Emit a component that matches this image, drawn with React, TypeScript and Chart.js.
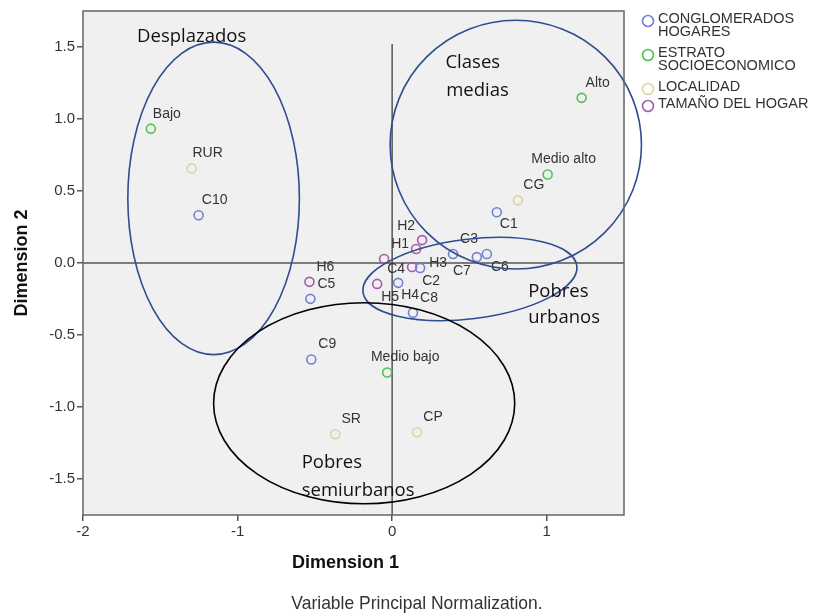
import React, { useEffect, useRef } from 'react';
import { Chart, registerables } from 'chart.js';

Chart.register(...registerables);

// ---------- data ----------
const conglomeradosLabels = ['C1', 'C2', 'C3', 'C4', 'C5', 'C6', 'C7', 'C8', 'C9', 'C10'];
const conglomeradosX = [0.677, 0.181, 0.394, 0.039, -0.529, 0.613, 0.548, 0.135, -0.523, -1.252];
const conglomeradosY = [0.352, -0.035, 0.062, -0.138, -0.249, 0.062, 0.041, -0.346, -0.670, 0.332];

const estratoLabels = ['Bajo', 'Medio bajo', 'Medio alto', 'Alto'];
const estratoX = [-1.561, -0.032, 1.006, 1.226];
const estratoY = [0.933, -0.760, 0.615, 1.147];

const localidadLabels = ['RUR', 'SR', 'CP', 'CG'];
const localidadX = [-1.297, -0.368, 0.161, 0.813];
const localidadY = [0.657, -1.189, -1.175, 0.435];

const tamanoLabels = ['H1', 'H2', 'H3', 'H4', 'H5', 'H6'];
const tamanoX = [-0.052, 0.194, 0.155, 0.129, -0.097, -0.535];
const tamanoY = [0.028, 0.159, 0.097, -0.028, -0.145, -0.131];

const seriesNames = [
  ['CONGLOMERADOS', 'HOGARES'],
  ['ESTRATO', 'SOCIOECONOMICO'],
  ['LOCALIDAD'],
  ['TAMAÑO DEL HOGAR'],
];

const xTickValues = [-2, -1, 0, 1];
const yTickValues = [-1.5, -1.0, -0.5, 0.0, 0.5, 1.0, 1.5];

const xAxisTitle = 'Dimension 1';
const yAxisTitle = 'Dimension 2';
const footnote = 'Variable Principal Normalization.';

// group annotations (data units)
const groupEllipses = [
  { c: [-1.155, 0.449], r: [0.555, 1.085], a: 0, color: '#2f4d8f' },
  { c: [0.80, 0.822], r: [0.813, 0.864], a: 0, color: '#2f4d8f' },
  { c: [0.503, -0.111], r: [0.697, 0.276], a: -7, color: '#2f4d8f' },
  { c: [-0.181, -0.974], r: [0.974, 0.698], a: 0, color: '#000000' },
];
const groupTexts = [
  { t: 'Desplazados', x: -1.65, y: 1.57 },
  { t: 'Clases', x: 0.345, y: 1.39 },
  { t: 'medias', x: 0.35, y: 1.195 },
  { t: 'Pobres', x: 0.88, y: -0.2 },
  { t: 'urbanos', x: 0.88, y: -0.38 },
  { t: 'Pobres', x: -0.585, y: -1.39 },
  { t: 'semiurbanos', x: -0.585, y: -1.58 },
];

// label offsets (px, text centre relative to marker) for crowded points
const DEFAULT_OFFSET = [16, -15];
const labelOffsets: Record<string, number[]> = {
  C1: [12, 12],
  C2: [11, 13],
  C4: [-2, -14],
  C6: [13, 13],
  C7: [-15, 14],
  H2: [-16, -14],
  H3: [22, 14],
  H4: [-2, 28],
  H5: [13, 13],
  'Medio bajo': [18, -15],
};

const COLORS = ['#7282d2', '#52c152', '#dcd4a4', '#a95aa9'];

const FONT = '"Liberation Sans", Arial, sans-serif';
const ANNOT_FONT = '"Open Sans", sans-serif';

function pts(xs: number[], ys: number[]) {
  return xs.map((x, i) => ({ x, y: ys[i] }));
}

const allLabels = [conglomeradosLabels, estratoLabels, localidadLabels, tamanoLabels];

const decorPlugin = {
  id: 'decor',
  beforeDraw(chart: any) {
    const { ctx, chartArea: a } = chart;
    ctx.save();
    ctx.fillStyle = '#ffffff';
    ctx.fillRect(0, 0, chart.width, chart.height);
    ctx.fillStyle = '#f0f0f0';
    ctx.fillRect(a.left, a.top, a.right - a.left, a.bottom - a.top);
    ctx.restore();
  },
  beforeDatasetsDraw(chart: any) {
    const { ctx, chartArea: a, scales } = chart;
    const x0 = scales.x.getPixelForValue(0);
    const y0 = scales.y.getPixelForValue(0);
    ctx.save();
    ctx.strokeStyle = '#555555';
    ctx.lineWidth = 1.5;
    ctx.beginPath();
    ctx.moveTo(a.left, y0);
    ctx.lineTo(a.right, y0);
    ctx.moveTo(x0, scales.y.getPixelForValue(1.52));
    ctx.lineTo(x0, a.bottom);
    ctx.stroke();
    ctx.restore();
  },
  afterDatasetsDraw(chart: any) {
    const { ctx, scales } = chart;
    const xs = scales.x;
    const ys = scales.y;
    ctx.save();
    // point labels
    ctx.font = `14px ${FONT}`;
    ctx.fillStyle = '#333333';
    ctx.textAlign = 'center';
    ctx.textBaseline = 'middle';
    chart.data.datasets.forEach((ds: any, di: number) => {
      const meta = chart.getDatasetMeta(di);
      meta.data.forEach((el: any, i: number) => {
        const lab = allLabels[di][i];
        const off = labelOffsets[lab] || DEFAULT_OFFSET;
        ctx.fillText(lab, el.x + off[0], el.y + off[1]);
      });
    });
    // ellipses
    groupEllipses.forEach((e) => {
      const cx = xs.getPixelForValue(e.c[0]);
      const cy = ys.getPixelForValue(e.c[1]);
      const rx = Math.abs(xs.getPixelForValue(e.c[0] + e.r[0]) - cx);
      const ry = Math.abs(ys.getPixelForValue(e.c[1] + e.r[1]) - cy);
      ctx.beginPath();
      ctx.ellipse(cx, cy, rx, ry, (e.a * Math.PI) / 180, 0, Math.PI * 2);
      ctx.strokeStyle = e.color;
      ctx.lineWidth = 1.6;
      ctx.stroke();
    });
    // group texts
    ctx.font = `18.5px ${ANNOT_FONT}`;
    ctx.fillStyle = '#111111';
    ctx.textAlign = 'left';
    ctx.textBaseline = 'middle';
    groupTexts.forEach((g) => {
      ctx.fillText(g.t, xs.getPixelForValue(g.x), ys.getPixelForValue(g.y));
    });
    ctx.restore();
  },
  afterDraw(chart: any) {
    const { ctx, chartArea: a } = chart;
    ctx.save();
    // frame
    ctx.strokeStyle = '#666666';
    ctx.lineWidth = 1.5;
    ctx.strokeRect(a.left, a.top, a.right - a.left, a.bottom - a.top);
    // axis titles
    ctx.fillStyle = '#111111';
    ctx.font = `bold 18px ${FONT}`;
    ctx.textAlign = 'center';
    ctx.textBaseline = 'middle';
    ctx.fillText(xAxisTitle, (a.left + a.right) / 2 - 8, a.bottom + 48);
    ctx.save();
    ctx.translate(22, (a.top + a.bottom) / 2);
    ctx.rotate(-Math.PI / 2);
    ctx.fillText(yAxisTitle, 0, 0);
    ctx.restore();
    // footnote
    ctx.save();
    ctx.translate(417, a.bottom + 89);
    ctx.scale(0.92, 1);
    ctx.font = `19px ${FONT}`;
    ctx.fillStyle = '#333333';
    ctx.fillText(footnote, 0, 0);
    ctx.restore();
    // legend
    const lx = a.right + 24;
    let ly = 19;
    ctx.font = `14.5px ${FONT}`;
    ctx.textAlign = 'left';
    seriesNames.forEach((lines, i) => {
      ctx.beginPath();
      ctx.arc(lx, ly + 2, 5.5, 0, Math.PI * 2);
      ctx.strokeStyle = COLORS[i];
      ctx.lineWidth = 1.6;
      ctx.stroke();
      ctx.fillStyle = '#333333';
      lines.forEach((l, j) => {
        ctx.fillText(l, lx + 10, ly + j * 13);
      });
      ly += lines.length * 13 + (lines.length > 1 ? 8 : 4);
    });
    ctx.restore();
  },
};

export default function App() {
  const ref = useRef<HTMLCanvasElement>(null);
  useEffect(() => {
    if (!ref.current) return;
    const series = [
      pts(conglomeradosX, conglomeradosY),
      pts(estratoX, estratoY),
      pts(localidadX, localidadY),
      pts(tamanoX, tamanoY),
    ];
    const chart = new Chart(ref.current, {
      type: 'scatter',
      data: {
        datasets: series.map((d, i) => ({
          label: seriesNames[i].join(' '),
          data: d,
          borderColor: COLORS[i],
          backgroundColor: 'rgba(0,0,0,0)',
          pointRadius: 4.5,
          pointBorderWidth: 1.6,
          pointHoverRadius: 4.5,
        })),
      },
      options: {
        animation: false,
        responsive: false,
        events: [],
        layout: { padding: { top: 10, right: 190, bottom: 0, left: 0 } },
        plugins: { legend: { display: false }, tooltip: { enabled: false } },
        scales: {
          x: {
            type: 'linear',
            min: -2,
            max: 1.5,
            afterBuildTicks: (s: any) => {
              s.ticks = xTickValues.map((v) => ({ value: v }));
            },
            afterFit: (s: any) => {
              s.height = 99;
            },
            ticks: {
              font: { size: 15, family: FONT },
              color: '#333333',
              padding: 2,
              maxRotation: 0,
              callback: (v: any) => String(v),
            },
            grid: { display: true, drawOnChartArea: false, drawTicks: true, tickLength: 6, color: '#555555', lineWidth: 1.5 },
            border: { display: false },
          },
          y: {
            type: 'linear',
            min: -1.75,
            max: 1.75,
            afterBuildTicks: (s: any) => {
              s.ticks = yTickValues.map((v) => ({ value: v }));
            },
            afterFit: (s: any) => {
              s.width = 83;
            },
            ticks: {
              font: { size: 15, family: FONT },
              color: '#333333',
              padding: 2,
              callback: (v: any) => Number(v).toFixed(1),
            },
            grid: { display: true, drawOnChartArea: false, drawTicks: true, tickLength: 6, color: '#555555', lineWidth: 1.5 },
            border: { display: false },
          },
        },
      },
      plugins: [decorPlugin],
    });
    return () => chart.destroy();
  }, []);
  return (
    <div style={{ position: 'absolute', left: 0, top: 0, width: 814, height: 614 }}>
      <canvas ref={ref} width={814} height={614} style={{ display: 'block' }} />
    </div>
  );
}
